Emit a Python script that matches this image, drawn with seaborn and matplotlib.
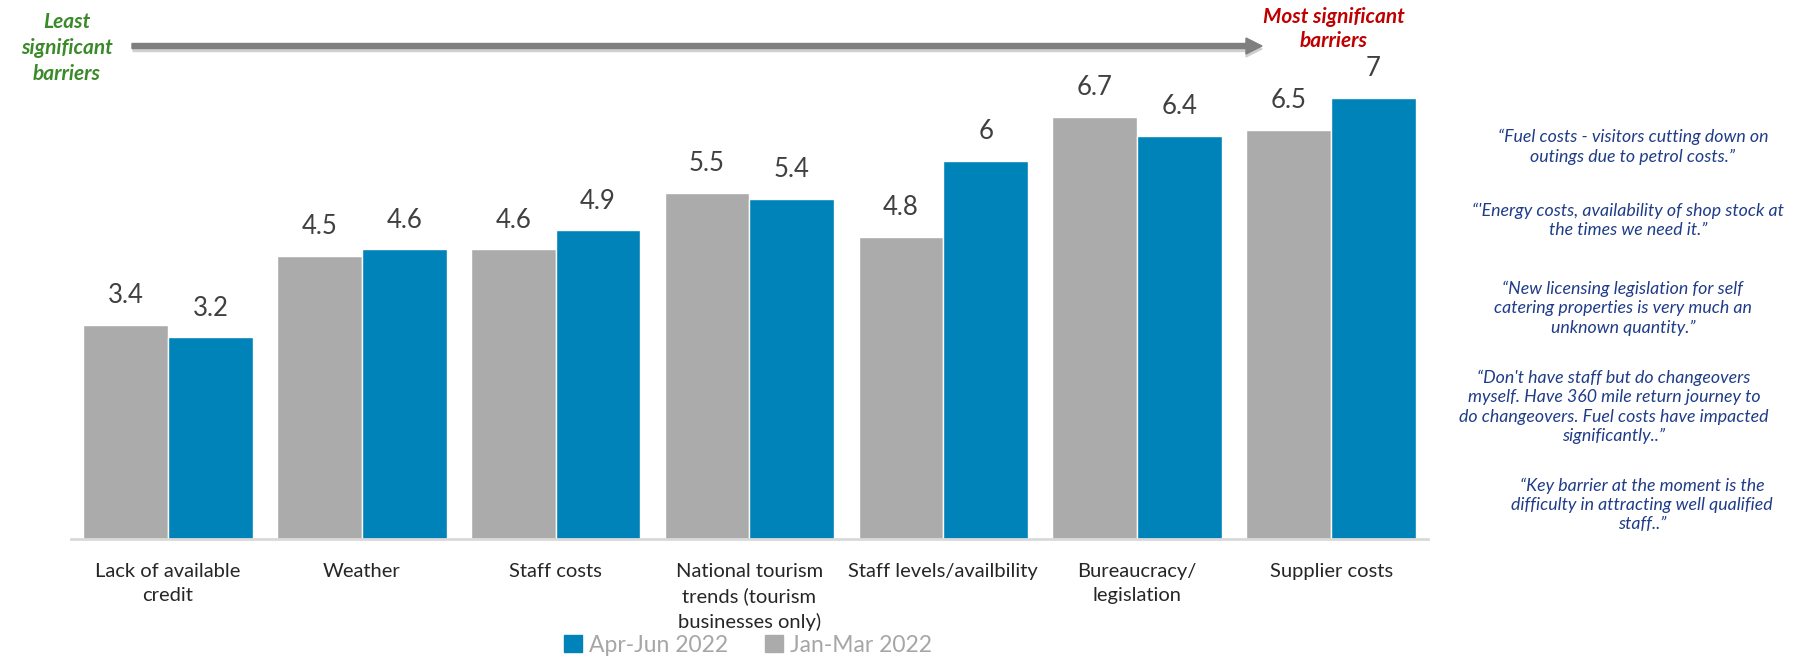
import pandas as pd
import seaborn as sns
import matplotlib.pyplot as plt
from matplotlib.patches import FancyArrow, Patch

# values
categories = ["Lack of available\ncredit", "Weather", "Staff costs",
              "National tourism\ntrends (tourism\nbusinesses only)",
              "Staff levels/availbility", "Bureaucracy/\nlegislation", "Supplier costs"]
jan_mar = [3.4, 4.5, 4.6, 5.5, 4.8, 6.7, 6.5]
apr_jun = [3.2, 4.6, 4.9, 5.4, 6.0, 6.4, 7.0]
series = ["Jan-Mar 2022", "Apr-Jun 2022"]

quotes = [
    "\u201cFuel costs - visitors cutting down on\noutings due to petrol costs.\u201d",
    "\u201c'Energy costs, availability of shop stock at\nthe times we need it.\u201d",
    "\u201cNew licensing legislation for self\ncatering properties is very much an\nunknown quantity.\u201d",
    "\u201cDon't have staff but do changeovers\nmyself. Have 360 mile return journey to\ndo changeovers. Fuel costs have impacted\nsignificantly..\u201d",
    "\u201cKey barrier at the moment is the\ndifficulty in attracting well qualified\nstaff..\u201d",
]

df = pd.DataFrame({
    "category": categories * 2,
    "score": jan_mar + apr_jun,
    "period": [series[0]] * len(categories) + [series[1]] * len(categories),
})

sns.set_style("white")
plt.rcParams['font.family'] = ['Lato', 'DejaVu Sans']

W, H = 1806, 656
fig = plt.figure(figsize=(W / 100, H / 100), dpi=100)
ax = fig.add_axes([71 / W, 1 - 539 / H, (1428 - 71) / W, (539 - 60) / H])

gray = "#ababab"
blue = "#0083b8"
sns.barplot(data=df, x="category", y="score", hue="period", hue_order=series,
            palette=[gray, blue], width=0.875, gap=0, ax=ax, legend=False,
            saturation=1)
ax.set_ylim(0, 479 / 63)
ax.set_xlim(-0.5, len(categories) - 0.5)

for cont in ax.containers:
    ax.bar_label(cont, labels=[f"{v:g}" for v in cont.datavalues], padding=12,
                 fontsize=18.5, color="#404040")

ax.set_xlabel("")
ax.set_ylabel("")
ax.set_yticks([])
ax.tick_params(axis="x", length=0, pad=17, labelsize=14.5, labelcolor="#262626")
for lab in ax.get_xticklabels():
    lab.set_linespacing(1.5)
for s in ["top", "right", "left"]:
    ax.spines[s].set_visible(False)
ax.spines["bottom"].set_color("#d9d9d9")
ax.spines["bottom"].set_linewidth(2)

# legend: Apr-Jun first, as in the reference
handles = [Patch(color=blue), Patch(color=gray)]
leg = fig.legend(handles, [series[1], series[0]], loc="center",
                 bbox_to_anchor=(748 / W, 1 - 645 / H), ncol=2, frameon=False,
                 fontsize=16.5, handlelength=0.8, handleheight=0.8,
                 handletextpad=0.3, columnspacing=1.6)
for t in leg.get_texts():
    t.set_color("#a6a6a6")

# arrow from least to most significant
fig.patches.append(FancyArrow(133 / W, 1 - 49 / H, (1262 - 133) / W, 0,
                              width=5 / H, head_width=16 / H, head_length=16 / W,
                              length_includes_head=True, color="#d0d0d0",
                              transform=fig.transFigure, figure=fig))
fig.patches.append(FancyArrow(132 / W, 1 - 46 / H, (1262 - 132) / W, 0,
                              width=5 / H, head_width=16 / H, head_length=16 / W,
                              length_includes_head=True, color="#7f7f7f",
                              transform=fig.transFigure, figure=fig))

fig.text(67 / W, 1 - 48 / H, "Least\nsignificant\nbarriers", ha="center", va="center",
         fontsize=15, fontweight="bold", fontstyle="italic", color="#3a8a2a",
         linespacing=1.4)
fig.text(1334 / W, 1 - 29 / H, "Most significant\nbarriers", ha="center", va="center",
         fontsize=15, fontweight="bold", fontstyle="italic", color="#c00000",
         linespacing=1.25)

quote_x = [1633, 1628, 1623, 1614, 1642]
quote_y = [147, 220, 308, 407, 505]
for q, x, y in zip(quotes, quote_x, quote_y):
    fig.text(x / W, 1 - y / H, q, ha="center", va="center", fontsize=12.8,
             fontstyle="italic", color="#1f3c88", linespacing=1.25)

fig.savefig("out.png", dpi=100)
